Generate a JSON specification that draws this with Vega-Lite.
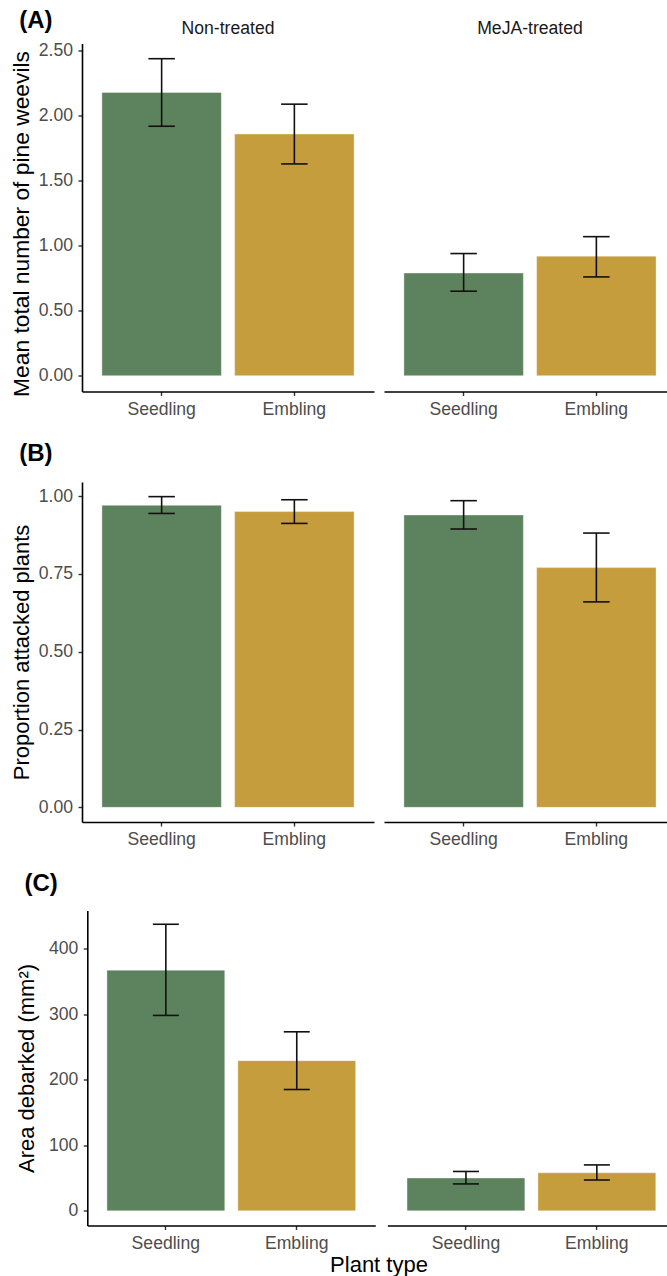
{
  "$schema": "https://vega.github.io/schema/vega-lite/v6.json",
  "padding": {"left": 10, "top": 8.5, "right": 0, "bottom": 0},
  "background": "white",
  "config": {
    "font": "Liberation Sans",
    "view": {"stroke": null},
    "axis": {
      "grid": false,
      "domainColor": "#000000",
      "domainWidth": 1.6,
      "tickColor": "#333333",
      "tickWidth": 1.4,
      "tickSize": 4,
      "labelFont": "Liberation Sans",
      "labelFontSize": 17.6,
      "labelColor": "#4d4d4d",
      "titleFont": "Liberation Sans",
      "titleFontSize": 22,
      "titleFontWeight": "normal",
      "titleColor": "#000000"
    },
    "axisY": {"labelPadding": 5.5, "titlePadding": 5},
    "axisX": {"labelPadding": 4.5, "labelAngle": 0},
    "header": {
      "labelFont": "Liberation Sans",
      "labelFontSize": 17.6,
      "labelColor": "#1a1a1a",
      "labelPadding": 6,
      "titleFont": "Liberation Sans",
      "titleFontSize": 22,
      "titleFontWeight": "normal",
      "titleColor": "#000000"
    },
    "title": {
      "font": "Liberation Sans",
      "fontSize": 24,
      "fontWeight": "bold",
      "color": "#000000",
      "anchor": "start",
      "frame": "bounds"
    }
  },
  "datasets": {
    "weevils": [
      {"treatment": "Non-treated", "plant": "Seedling", "mean": 2.18, "lower": 1.92, "upper": 2.44},
      {"treatment": "Non-treated", "plant": "Embling", "mean": 1.86, "lower": 1.63, "upper": 2.09},
      {"treatment": "MeJA-treated", "plant": "Seedling", "mean": 0.79, "lower": 0.65, "upper": 0.94},
      {"treatment": "MeJA-treated", "plant": "Embling", "mean": 0.92, "lower": 0.76, "upper": 1.07}
    ],
    "attacked": [
      {"treatment": "Non-treated", "plant": "Seedling", "mean": 0.97, "lower": 0.944, "upper": 0.998},
      {"treatment": "Non-treated", "plant": "Embling", "mean": 0.95, "lower": 0.912, "upper": 0.988},
      {"treatment": "MeJA-treated", "plant": "Seedling", "mean": 0.939, "lower": 0.894, "upper": 0.985},
      {"treatment": "MeJA-treated", "plant": "Embling", "mean": 0.77, "lower": 0.66, "upper": 0.881}
    ],
    "debarked": [
      {"treatment": "Non-treated", "plant": "Seedling", "mean": 367, "lower": 298, "upper": 437},
      {"treatment": "Non-treated", "plant": "Embling", "mean": 229, "lower": 185, "upper": 273},
      {"treatment": "MeJA-treated", "plant": "Seedling", "mean": 50, "lower": 41, "upper": 60},
      {"treatment": "MeJA-treated", "plant": "Embling", "mean": 58, "lower": 47, "upper": 70}
    ]
  },
  "spacing": 22.5,
  "vconcat": [
    {
      "title": {"text": "(A)", "offset": -12.8, "dx": 9},
      "data": {"name": "weevils"},
      "facet": {
        "column": {
          "field": "treatment", "type": "nominal",
          "sort": ["Non-treated", "MeJA-treated"],
          "title": null,
          "header": {"labelOrient": "top"}
        }
      },
      "spacing": 10,
      "spec": {
        "width": 292,
        "height": 348,
        "encoding": {
          "x": {
            "field": "plant", "type": "nominal", "sort": ["Seedling", "Embling"],
            "scale": {"paddingInner": 0.1, "paddingOuter": 0.15},
            "title": null
          }
        },
        "layer": [
          {
            "mark": {"type": "bar", "stroke": "#ffffff", "strokeOpacity": 0.45, "strokeWidth": 0.8},
            "encoding": {
              "y": {
                "field": "mean", "type": "quantitative",
                "scale": {"domain": [-0.122, 2.557], "nice": false, "zero": false},
                "axis": {"values": [0, 0.5, 1, 1.5, 2, 2.5], "format": ".2f", "titleFontSize": 22.8, "titleY": 180},
                "title": "Mean total number of pine weevils"
              },
              "color": {
                "field": "plant", "type": "nominal",
                "scale": {"domain": ["Seedling", "Embling"], "range": ["#5d835e", "#c59d3c"]},
                "legend": null
              }
            }
          },
          {
            "mark": {"type": "rule", "color": "#111111", "strokeWidth": 1.6},
            "encoding": {"y": {"field": "lower", "type": "quantitative"}, "y2": {"field": "upper"}}
          },
          {
            "mark": {"type": "tick", "color": "#111111", "size": 26.5, "thickness": 1.6, "opacity": 1},
            "encoding": {"y": {"field": "lower", "type": "quantitative"}}
          },
          {
            "mark": {"type": "tick", "color": "#111111", "size": 26.5, "thickness": 1.6, "opacity": 1},
            "encoding": {"y": {"field": "upper", "type": "quantitative"}}
          }
        ]
      }
    },
    {
      "title": {"text": "(B)", "offset": 16.5, "dx": 9},
      "data": {"name": "attacked"},
      "facet": {
        "column": {
          "field": "treatment", "type": "nominal",
          "sort": ["Non-treated", "MeJA-treated"],
          "title": null,
          "header": {"labels": false}
        }
      },
      "spacing": 10,
      "spec": {
        "width": 292,
        "height": 340,
        "encoding": {
          "x": {
            "field": "plant", "type": "nominal", "sort": ["Seedling", "Embling"],
            "scale": {"paddingInner": 0.1, "paddingOuter": 0.15},
            "title": null
          }
        },
        "layer": [
          {
            "mark": {"type": "bar", "stroke": "#ffffff", "strokeOpacity": 0.45, "strokeWidth": 0.8},
            "encoding": {
              "y": {
                "field": "mean", "type": "quantitative",
                "scale": {"domain": [-0.047, 1.045], "nice": false, "zero": false},
                "axis": {"values": [0, 0.25, 0.5, 0.75, 1], "format": ".2f"},
                "title": "Proportion attacked plants"
              },
              "color": {
                "field": "plant", "type": "nominal",
                "scale": {"domain": ["Seedling", "Embling"], "range": ["#5d835e", "#c59d3c"]},
                "legend": null
              }
            }
          },
          {
            "mark": {"type": "rule", "color": "#111111", "strokeWidth": 1.6},
            "encoding": {"y": {"field": "lower", "type": "quantitative"}, "y2": {"field": "upper"}}
          },
          {
            "mark": {"type": "tick", "color": "#111111", "size": 26.5, "thickness": 1.6, "opacity": 1},
            "encoding": {"y": {"field": "lower", "type": "quantitative"}}
          },
          {
            "mark": {"type": "tick", "color": "#111111", "size": 26.5, "thickness": 1.6, "opacity": 1},
            "encoding": {"y": {"field": "upper", "type": "quantitative"}}
          }
        ]
      }
    },
    {
      "title": {"text": "(C)", "offset": 14.5, "dx": 9},
      "data": {"name": "debarked"},
      "facet": {
        "column": {
          "field": "treatment", "type": "nominal",
          "sort": ["Non-treated", "MeJA-treated"],
          "title": "Plant type",
          "header": {"labels": false, "titleOrient": "bottom", "titlePadding": -8}
        }
      },
      "spacing": 6.1,
      "spec": {
        "width": 293.3,
        "height": 315,
        "encoding": {
          "x": {
            "field": "plant", "type": "nominal", "sort": ["Seedling", "Embling"],
            "scale": {"paddingInner": 0.1, "paddingOuter": 0.15, "range": [5.3, 293.3]},
            "title": null
          }
        },
        "layer": [
          {
            "mark": {"type": "bar", "stroke": "#ffffff", "strokeOpacity": 0.45, "strokeWidth": 0.8},
            "encoding": {
              "y": {
                "field": "mean", "type": "quantitative",
                "scale": {"domain": [-22.4, 458], "nice": false, "zero": false},
                "axis": {"values": [0, 100, 200, 300, 400], "format": "d", "titlePadding": 10, "offset": -5.3},
                "title": "Area debarked  (mm²)"
              },
              "color": {
                "field": "plant", "type": "nominal",
                "scale": {"domain": ["Seedling", "Embling"], "range": ["#5d835e", "#c59d3c"]},
                "legend": null
              }
            }
          },
          {
            "mark": {"type": "rule", "color": "#111111", "strokeWidth": 1.6},
            "encoding": {"y": {"field": "lower", "type": "quantitative"}, "y2": {"field": "upper"}}
          },
          {
            "mark": {"type": "tick", "color": "#111111", "size": 26, "thickness": 1.6, "opacity": 1},
            "encoding": {"y": {"field": "lower", "type": "quantitative"}}
          },
          {
            "mark": {"type": "tick", "color": "#111111", "size": 26, "thickness": 1.6, "opacity": 1},
            "encoding": {"y": {"field": "upper", "type": "quantitative"}}
          }
        ]
      }
    }
  ]
}
